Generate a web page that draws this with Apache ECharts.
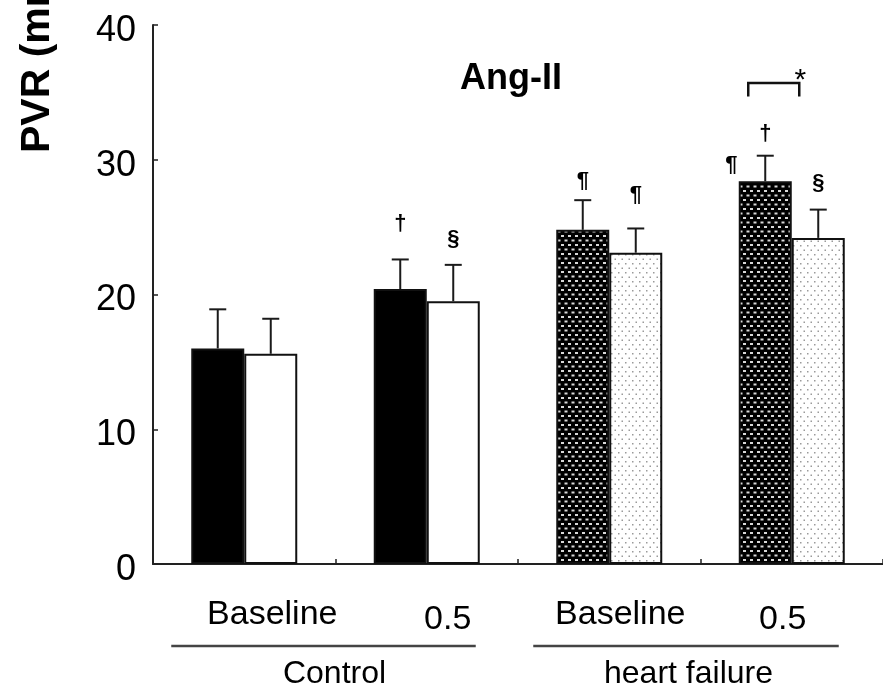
<!DOCTYPE html>
<html>
<head>
<meta charset="utf-8">
<script src="https://cdn.jsdelivr.net/npm/echarts@6/dist/echarts.min.js"></script>
<style>
  html, body { margin: 0; padding: 0; background: #fff; }
  #chart { width: 883px; height: 690px; }
</style>
</head>
<body>
<div id="chart"></div>
<script>
// ---- data ----
const categories = ['Baseline', '0.5', 'Baseline', '0.5'];
const groups = ['Control', 'heart failure'];
const firstBar = [16.0, 20.4, 24.8, 28.4];
const firstErr = [2.9, 2.2, 2.2, 1.9];
const secondBar = [15.6, 19.5, 23.1, 24.2];
const secondErr = [2.6, 2.7, 1.8, 2.1];
const firstMarks = ['', '\u2020', '\u00B6', '\u2020'];
const firstMarkY = [null, 25.2, 28.4, 31.9];
const secondMarks = ['', '\u00A7', '\u00B6', '\u00A7'];
const secondMarkY = [null, 24.1, 27.4, 28.3];
const sideMarks = ['', '', '', '\u00B6'];
const sideMarkY = [null, null, null, 29.6];
const bracketCat = [3];
const bracketY = [34.7, 35.7];
const bracketMark = '*';
const yTicks = [0, 10, 20, 30, 40];
const titleText = 'Ang-II';
const yName = 'PVR (mmHg\u00B7min/L)';

// ---- styles ----
const FONT = 'Liberation Sans, Arial, sans-serif';
const BAR_W = 53;
const HALF = BAR_W / 2;

function makePattern(bg, dot, w, h, dots) {
  const c = document.createElement('canvas');
  c.width = w; c.height = h;
  const ctx = c.getContext('2d');
  ctx.fillStyle = bg; ctx.fillRect(0, 0, w, h);
  ctx.fillStyle = dot;
  dots.forEach(d => ctx.fillRect(d[0], d[1], d[2], d[3]));
  return { image: c, repeat: 'repeat' };
}
const darkPattern = makePattern('#000', '#d8d8d8', 7, 9, [[1, 1, 3, 2], [4.5, 5.5, 3, 2], [-2.5, 5.5, 3, 2]]);
const lightPattern = makePattern('#fff', '#9a9a9a', 7, 9, [[2, 2, 1.5, 1.5], [5.5, 6.5, 1.5, 1.5]]);

const firstColors = ['#000', '#000', darkPattern, darkPattern];
const secondColors = ['#fff', '#fff', lightPattern, lightPattern];

const chart = echarts.init(document.getElementById('chart'), null, { renderer: 'canvas' });

function errRender(offset) {
  return function (params, api) {
    const i = api.value(0), v = api.value(1), e = api.value(2);
    const b = api.coord([i, v]);
    const t = api.coord([i, v + e]);
    const x = b[0] + offset;
    const st = { stroke: '#1a1a1a', lineWidth: 2 };
    return {
      type: 'group',
      children: [
        { type: 'line', shape: { x1: x, y1: b[1], x2: x, y2: t[1] }, style: st },
        { type: 'line', shape: { x1: x - 8.5, y1: t[1], x2: x + 8.5, y2: t[1] }, style: st }
      ]
    };
  };
}

function markRender(offset, marks) {
  return function (params, api) {
    const i = api.value(0), y = api.value(1);
    const txt = marks[params.dataIndex];
    if (!txt) return null;
    const p = api.coord([i, y]);
    return {
      type: 'text', x: p[0] + offset, y: p[1],
      style: { text: txt, font: 'bold 22px ' + FONT, fill: '#000', align: 'center', verticalAlign: 'middle' }
    };
  };
}

const option = {
  backgroundColor: '#fff',
  animation: false,
  title: {
    text: titleText, left: 455, top: 56,
    textStyle: { fontFamily: FONT, fontSize: 36, fontWeight: 'bold', color: '#000' }
  },
  grid: { left: 153, right: -2, top: 25, bottom: 123, containLabel: false },
  xAxis: [
    {
      type: 'category', data: categories, position: 'bottom',
      axisLine: { show: true, lineStyle: { color: '#222', width: 2 } },
      axisTick: { show: true, inside: true, length: 5, lineStyle: { color: '#222', width: 1.5 } },
      axisLabel: {
        margin: 34, interval: 0,
        formatter: (v, i) => '{l' + i + '|' + v + '}',
        rich: {
          l0: { fontFamily: FONT, fontSize: 34, color: '#000', padding: [0, 0, 0, 56] },
          l1: { fontFamily: FONT, fontSize: 34, color: '#000', padding: [5, 0, 0, 42] },
          l2: { fontFamily: FONT, fontSize: 34, color: '#000', padding: [0, 0, 0, 22] },
          l3: { fontFamily: FONT, fontSize: 34, color: '#000', padding: [5, 18, 0, 0] }
        }
      },
      splitLine: { show: false }
    },
    {
      type: 'category', data: groups, position: 'bottom',
      axisLine: { show: false }, axisTick: { show: false },
      axisLabel: {
        margin: 94, interval: 0,
        formatter: (v, i) => '{g' + i + '|' + v + '}',
        rich: {
          g0: { fontFamily: FONT, fontSize: 32, color: '#000', padding: [0, 2, 0, 0] },
          g1: { fontFamily: FONT, fontSize: 32, color: '#000', padding: [0, 24, 0, 0] }
        }
      },
      splitLine: { show: false }
    }
  ],
  yAxis: {
    type: 'value', min: 0, max: 40, interval: 10,
    axisLine: { show: true, lineStyle: { color: '#222', width: 2 } },
    axisTick: { show: true, inside: true, length: 5, lineStyle: { color: '#222', width: 1.5 } },
    axisLabel: {
      margin: 17,
      formatter: v => (yTicks.indexOf(v) >= 0 ? '{t|' + v + '}' : ''),
      rich: { t: { fontFamily: FONT, fontSize: 36, color: '#000', padding: [12, 0, 0, 0] } }
    },
    splitLine: { show: false }
  },
  series: [
    {
      type: 'bar', name: 'first', xAxisIndex: 0, barWidth: BAR_W, barGap: '0%',
      data: firstBar.map((v, i) => ({ value: v, itemStyle: { color: firstColors[i] } })),
      itemStyle: { borderColor: '#111', borderWidth: 2 }
    },
    {
      type: 'bar', name: 'second', xAxisIndex: 0, barWidth: BAR_W, barGap: '0%',
      data: secondBar.map((v, i) => ({ value: v, itemStyle: { color: secondColors[i] } })),
      itemStyle: { borderColor: '#111', borderWidth: 2 }
    },
    {
      type: 'custom', xAxisIndex: 0, z: 5, renderItem: errRender(-HALF),
      data: firstBar.map((v, i) => [i, v, firstErr[i]]), encode: { x: 0, y: 1 }
    },
    {
      type: 'custom', xAxisIndex: 0, z: 5, renderItem: errRender(HALF),
      data: secondBar.map((v, i) => [i, v, secondErr[i]]), encode: { x: 0, y: 1 }
    },
    {
      type: 'custom', xAxisIndex: 0, z: 6, renderItem: markRender(-HALF, firstMarks),
      data: firstMarkY.map((y, i) => [i, y == null ? 0 : y]), encode: { x: 0, y: 1 }
    },
    {
      type: 'custom', xAxisIndex: 0, z: 6, renderItem: markRender(HALF, secondMarks),
      data: secondMarkY.map((y, i) => [i, y == null ? 0 : y]), encode: { x: 0, y: 1 }
    },
    {
      type: 'custom', xAxisIndex: 0, z: 6, renderItem: markRender(-HALF - 34, sideMarks),
      data: sideMarkY.map((y, i) => [i, y == null ? 0 : y]), encode: { x: 0, y: 1 }
    },
    {
      type: 'custom', xAxisIndex: 0, z: 6,
      renderItem: function (params, api) {
        const i = api.value(0);
        const lo = api.coord([i, bracketY[0]]);
        const hi = api.coord([i, bracketY[1]]);
        const xl = lo[0] - HALF - 17;
        const xr = lo[0] - HALF + 34;
        const st = { stroke: '#111', lineWidth: 2.5 };
        return {
          type: 'group',
          children: [
            { type: 'polyline', shape: { points: [[xl, lo[1]], [xl, hi[1]], [xr, hi[1]], [xr, lo[1]]] }, style: Object.assign({ fill: null }, st) },
            { type: 'text', x: xr + 1, y: hi[1] - 2, style: { text: bracketMark, font: '30px ' + FONT, fill: '#000', align: 'center', verticalAlign: 'middle' } }
          ]
        };
      },
      data: bracketCat.map(c => [c, bracketY[0]]), encode: { x: 0, y: 1 }
    }
  ]
};

chart.setOption(option);

// group underlines and rotated y-axis name
function px(v) { const r = chart.convertToPixel({ xAxisIndex: 0 }, v); return Array.isArray(r) ? r[0] : r; }
function py(v) { const r = chart.convertToPixel({ yAxisIndex: 0 }, v); return Array.isArray(r) ? r[1] : r; }
const c0 = px(0), c1 = px(1), c2 = px(2), c3 = px(3);
const lineY = py(0) + 82;
chart.setOption({
  graphic: [
    { type: 'line', shape: { x1: c0 - 73, y1: lineY, x2: c1 + 49, y2: lineY }, style: { stroke: '#444', lineWidth: 2.5 } },
    { type: 'line', shape: { x1: c2 - 76, y1: lineY, x2: c3 + 47, y2: lineY }, style: { stroke: '#444', lineWidth: 2.5 } },
    {
      type: 'text', x: 58, y: 153, rotation: Math.PI / 2,
      style: { text: yName, font: 'bold 41px ' + FONT, fill: '#000', align: 'left', verticalAlign: 'bottom' }
    }
  ]
});
</script>
</body>
</html>
